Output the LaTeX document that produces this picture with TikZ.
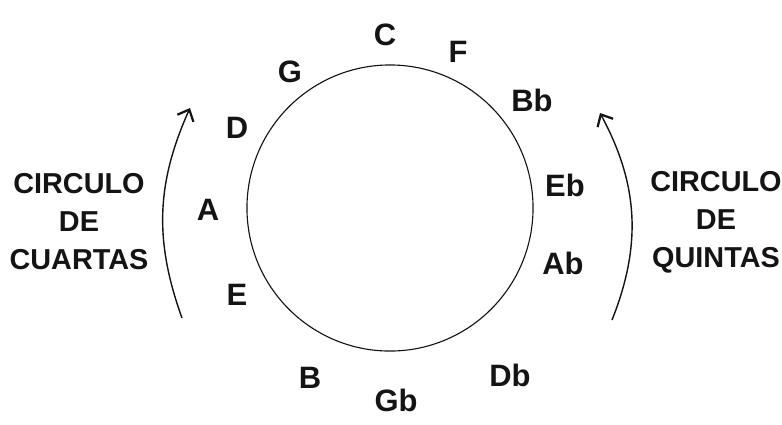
\documentclass[tikz,border=0pt]{standalone}
\usepackage{fontspec}
\setmainfont{Liberation Sans}
\usepackage{xcolor}
\usetikzlibrary{arrows.meta, positioning}
\definecolor{inkblack}{RGB}{20, 20, 20}

\begin{document}
\begin{tikzpicture}[
    x=0.025cm, y=-0.025cm,
    note/.style={text=inkblack, font=\fontsize{22}{22}\selectfont\bfseries, inner sep=0pt},
    title/.style={text=inkblack, align=center,
                  font=\fontsize{20.5}{27}\selectfont\bfseries},
    turn/.style={draw=inkblack, line width=1pt,
                 -{Straight Barb[length=2.4mm, width=4.4mm, line width=1.6pt]}}
]
    \useasboundingbox (0,0) rectangle (782,424);

    % Circle
    \node[circle, draw=inkblack, line width=0.8pt, minimum size=7.15cm,
          inner sep=0pt] (wheel) at (390,208) {};

    % Notes
    \node[note] (nC)  at (385,35)  {C};
    \node[note] (nF)  at (458,52)  {F};
    \node[note] (nBb) at (532,100) {Bb};
    \node[note] (nEb) at (565,185) {Eb};
    \node[note] (nAb) at (563,263) {Ab};
    \node[note] (nDb) at (510,375) {Db};
    \node[note] (nGb) at (396,400) {Gb};
    \node[note] (nB)  at (310,378) {B};
    \node[note] (nE)  at (237,295) {E};
    \node[note] (nA)  at (208,210) {A};
    \node[note] (nD)  at (237,128) {D};
    \node[note] (nG)  at (290,72)  {G};

    % Arrows
    \coordinate (lbot) at (182,318);
    \coordinate (ltop) at (190,108);
    \coordinate (rbot) at (612,320);
    \coordinate (rtop) at (600,113);
    \draw[turn] (lbot) to[bend left=22] (ltop);
    \draw[turn] (rbot) to[bend right=25] (rtop);

    % Labels
    \node[title] (cuartas) at (79,222) {CIRCULO\\DE\\CUARTAS};
    \node[title] (quintas) at (716,222) {CIRCULO\\DE\\QUINTAS};
\end{tikzpicture}
\end{document}
